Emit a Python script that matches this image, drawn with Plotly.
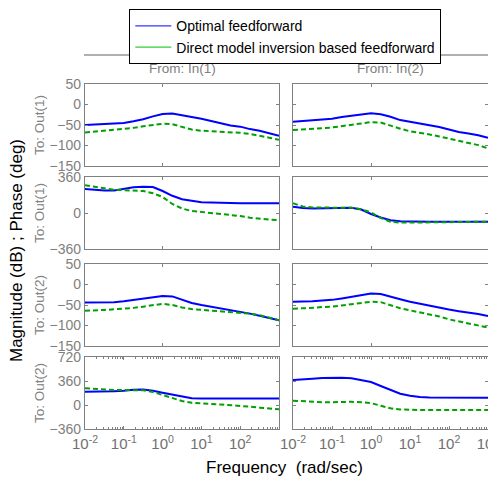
import plotly.graph_objects as go

# ---------------- data ----------------
freq = [0.01, 0.0178, 0.0316, 0.0562, 0.1, 0.178, 0.316, 0.562, 1.0, 1.78, 3.16,
        5.62, 10, 17.8, 31.6, 56.2, 100, 178, 316, 562, 1000]

# Magnitude (dB), In(1) -> Out(1)
mag11_opt = [-50, -49, -47.5, -46, -45, -41, -36, -29, -23, -22, -26, -31, -35, -40, -46, -51, -54, -60, -64, -70, -76]
mag11_dmi = [-68, -66, -63.5, -62, -60, -57, -53, -50, -47, -48, -55, -61, -64, -65, -66, -67.5, -69, -72, -76, -81, -86]
# Magnitude (dB), In(2) -> Out(1)
mag21_opt = [-42, -40, -38.5, -37, -35, -30.5, -27, -23.5, -21.5, -24, -30, -38, -42, -46, -50.5, -55, -61, -67, -71, -75, -81]
mag21_dmi = [-62, -61, -60, -58, -56, -53, -49.5, -46, -43, -44, -52, -59, -65.5, -69, -73, -78, -83, -88, -92.5, -99, -107]
# Phase (deg), In(1) -> Out(1)
ph11_opt = [240, 232, 225, 225, 245, 258, 262, 260, 220, 172, 138, 120, 107, 104, 100, 97, 97, 97, 97, 97, 97]
ph11_dmi = [277, 262, 245, 232, 228, 226, 220, 198, 160, 90, 45, 20, 10, 3, -5, -15, -30, -47, -58, -66, -70]
# Phase (deg), In(2) -> Out(1)
ph21_opt = [63, 50, 46, 46, 47, 50, 52, 35, -10, -45, -72, -83, -86, -87, -87, -87, -87, -87, -87, -87, -87]
ph21_dmi = [97, 65, 55, 52, 52, 53, 52, 38, 5, -50, -88, -96, -96, -94, -92, -91, -90, -89, -89, -88, -88]
# Magnitude (dB), In(1) -> Out(2)
mag12_opt = [-44, -44, -44, -43, -41, -38, -34, -31, -28, -29, -37, -45, -50, -54, -58, -62, -66, -71, -76, -81, -87]
mag12_dmi = [-64, -63.5, -62, -60.5, -59, -57, -54, -50, -47, -50, -56, -60, -62, -64, -65, -66.5, -68.5, -71, -75, -81, -87]
# Magnitude (dB), In(2) -> Out(2)
mag22_opt = [-42, -42, -41, -39, -37.5, -34, -30, -25.5, -22, -23, -30, -36, -42, -47, -51, -56, -61, -65, -68, -72, -77]
mag22_dmi = [-59, -58.5, -57, -55, -54, -51, -48, -45, -42, -43, -51, -58, -63, -68, -73, -78, -85, -90, -95, -99, -105]
# Phase (deg), In(1) -> Out(2)
ph12_opt = [200, 200, 200, 205, 215, 230, 233, 215, 185, 155, 120, 100, 98, 98, 98, 98, 98, 98, 98, 98, 98]
ph12_dmi = [250, 240, 230, 225, 225, 225, 220, 195, 150, 100, 60, 35, 22, 15, 8, 0, -12, -25, -40, -52, -65]
# Phase (deg), In(2) -> Out(2)
ph22_opt = [375, 380, 395, 405, 410, 410, 400, 375, 345, 285, 222, 170, 140, 120, 112, 110, 110, 110, 110, 110, 110]
ph22_dmi = [65, 55, 45, 42, 42, 48, 48, 42, 28, -10, -50, -68, -75, -75, -75, -75, -75, -75, -75, -75, -75]

decade_ticks = [0.01, 0.1, 1, 10, 100, 1000]
decade_labels_left = ["10<sup>-2</sup>", "10<sup>-1</sup>", "10<sup>0</sup>", "10<sup>1</sup>", "10<sup>2</sup>", ""]
decade_labels_right = ["10<sup>-2</sup>", "10<sup>-1</sup>", "10<sup>0</sup>", "10<sup>1</sup>", "10<sup>2</sup>", "10<sup>3</sup>"]
minor_ticks = [m * d for d in [0.01, 0.1, 1, 10, 100] for m in range(2, 10)]
mag_ticks = [-150, -100, -50, 0, 50]
ph1_ticks = [-360, 0, 360]
ph2_ticks = [-360, 0, 360, 720]

series_names = ["Optimal feedforward", "Direct model inversion based feedforward"]

# ---------------- layout helpers ----------------
OFF = 8                      # page body margin in the browser
W, H = 496 - OFF, 480 - OFF  # figure fits the visible window
GRAY = "#808080"
BLUE = "#0000ff"
GREEN = "#00a000"
FONT = "Liberation Sans, Arial"


def px(x):
    return (x - OFF) / W


def py(y):
    return 1 - (y - OFF) / H


col_x = [(85, 279), (293, 488)]
row_y = [(84, 166), (177, 249), (264, 346), (357, 429)]

panels = [
    (mag11_opt, mag11_dmi), (mag21_opt, mag21_dmi),
    (ph11_opt, ph11_dmi), (ph21_opt, ph21_dmi),
    (mag12_opt, mag12_dmi), (mag22_opt, mag22_dmi),
    (ph12_opt, ph12_dmi), (ph22_opt, ph22_dmi),
]
row_ranges = [[-150, 50], [-360, 360], [-150, 50], [-360, 720]]
row_ticks = [mag_ticks, ph1_ticks, mag_ticks, ph2_ticks]

fig = go.Figure()
layout = {}

for i, (opt, dmi) in enumerate(panels):
    r, c = divmod(i, 2)
    n = i + 1
    xa = "x" if n == 1 else f"x{n}"
    ya = "y" if n == 1 else f"y{n}"
    fig.add_trace(go.Scatter(x=freq, y=opt, xaxis=xa, yaxis=ya, mode="lines",
                             line=dict(color=BLUE, width=2), showlegend=False))
    fig.add_trace(go.Scatter(x=freq, y=dmi, xaxis=xa, yaxis=ya, mode="lines",
                             line=dict(color=GREEN, width=2, dash="5px,3px"), showlegend=False))
    x0, x1 = col_x[c]
    y0, y1 = row_y[r]
    xkey = "xaxis" if n == 1 else f"xaxis{n}"
    ykey = "yaxis" if n == 1 else f"yaxis{n}"
    xdict = dict(type="log", range=[-2, 3], domain=[px(x0), px(x1)], anchor=ya, automargin=False,
                 showline=True, linecolor=GRAY, linewidth=1.2, mirror="ticks",
                 ticks="inside", ticklen=3, tickcolor=GRAY, showgrid=False, zeroline=False)
    if r == 3:
        xdict.update(tickmode="array", tickvals=decade_ticks,
                     ticktext=decade_labels_left if c == 0 else decade_labels_right,
                     tickfont=dict(family=FONT, size=15, color="#707070"),
                     ticklabelstandoff=1, ticklabeloverflow="allow",
                     minor=dict(tickmode="array", tickvals=minor_ticks, ticks="inside",
                                ticklen=2, tickcolor=GRAY))
    else:
        xdict.update(tickmode="array", tickvals=[1], showticklabels=False)
    ydict = dict(range=row_ranges[r], domain=[py(y1), py(y0)], anchor=xa, automargin=False,
                 showline=True, linecolor=GRAY, linewidth=1.2, mirror="ticks",
                 ticks="inside", ticklen=3, tickcolor=GRAY, showgrid=False, zeroline=False,
                 tickmode="array", tickvals=row_ticks[r], ticklabeloverflow="allow",
                 tickfont=dict(family=FONT, size=14, color=GRAY),
                 showticklabels=(c == 0))
    layout[xkey] = xdict
    layout[ykey] = ydict

# legend-only entries (thin solid samples as in the original)
fig.add_trace(go.Scatter(x=[None], y=[None], mode="lines", name=series_names[0],
                         line=dict(color=BLUE, width=1)))
fig.add_trace(go.Scatter(x=[None], y=[None], mode="lines", name=series_names[1],
                         line=dict(color="#00c000", width=1)))


def ann(text, x, y, size, color, angle=0):
    return dict(text=text, x=px(x), y=py(y), xref="paper", yref="paper",
                xanchor="center", yanchor="middle", textangle=angle, showarrow=False,
                font=dict(family=FONT, size=size, color=color))


annotations = []
for c, label in enumerate(["From: In(1)", "From: In(2)"]):
    x0, x1 = col_x[c]
    annotations.append(ann(label, (x0 + x1) / 2, 69, 13.5, GRAY))
for r, label in enumerate(["To: Out(1)", "To: Out(1)", "To: Out(2)", "To: Out(2)"]):
    y0, y1 = row_y[r]
    annotations.append(ann(label, 39, (y0 + y1) / 2, 13.5, GRAY, -90))
annotations.append(ann("Magnitude (dB) ; Phase (deg)", 17, 251, 17, "black", -90))
annotations.append(ann("Frequency  (rad/sec)", 284, 467, 17, "black"))

shapes = []
for c in range(2):
    x0, x1 = col_x[c]
    shapes.append(dict(type="line", xref="paper", yref="paper", x0=px(x0 - 1), x1=px(x1 + 1),
                       y0=py(55), y1=py(55), line=dict(color="#606060", width=1)))

fig.update_layout(
    width=W, height=H, margin=dict(l=0, r=0, t=0, b=0, autoexpand=False),
    paper_bgcolor="white", plot_bgcolor="white",
    annotations=annotations, shapes=shapes,
    legend=dict(x=px(129), y=py(9), xanchor="left", yanchor="top",
                bordercolor="black", borderwidth=1.3, bgcolor="white",
                font=dict(family=FONT, size=14, color="black"),
                itemwidth=36, tracegroupgap=0),
    **layout,
)

fig.write_html("out.html")
